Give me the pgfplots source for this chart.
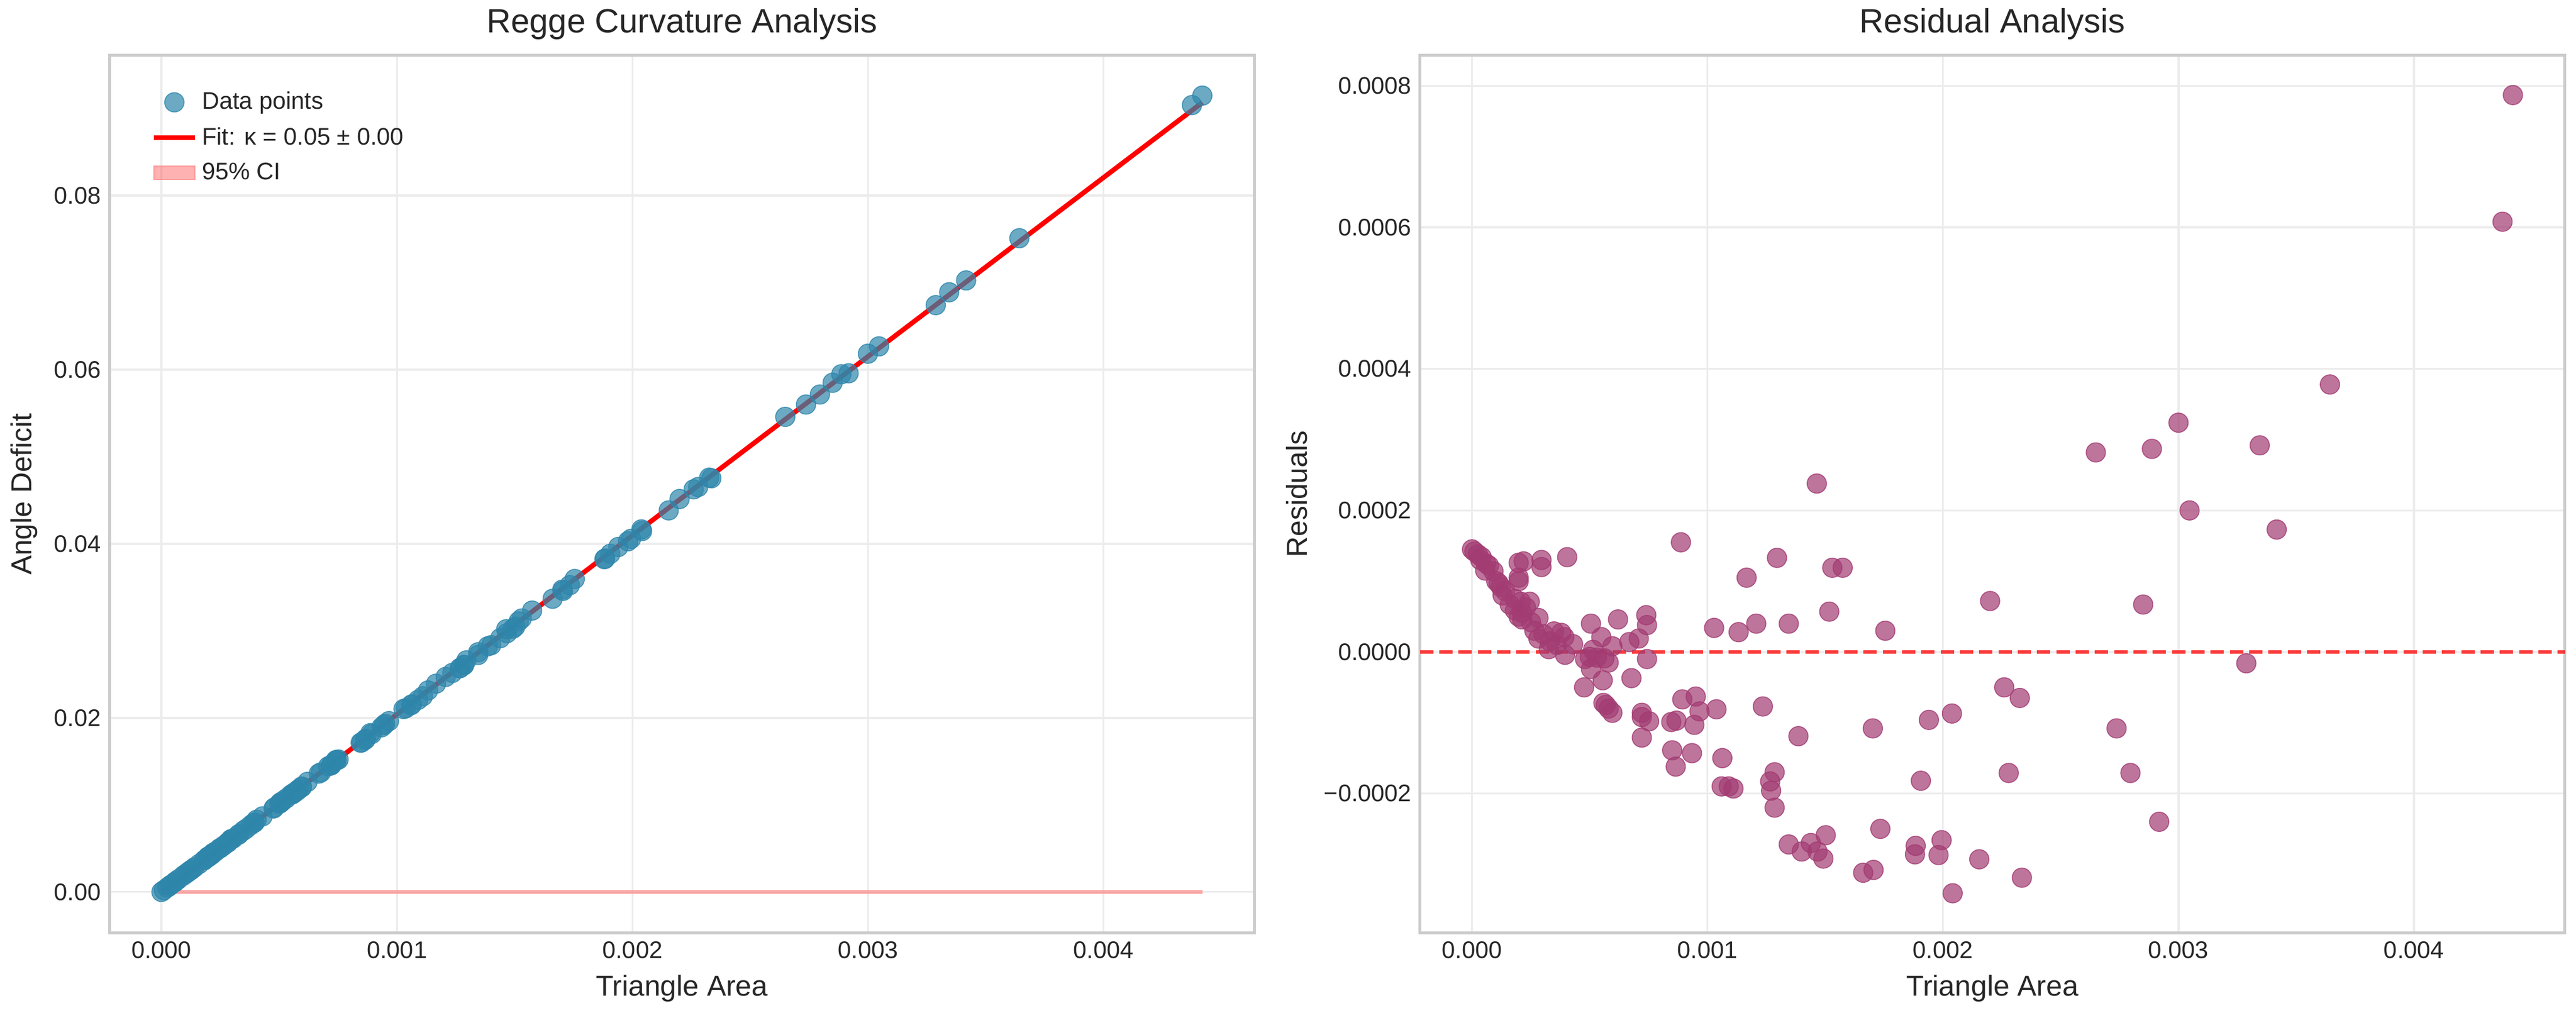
\documentclass[border=0pt]{standalone}
\usepackage{pgfplots}
\pgfplotsset{compat=1.18}
\usepackage{pgfplotstable}
\usepackage{fontspec}
\setmainfont{Liberation Sans}
\definecolor{ptblue}{RGB}{46,134,171}
\definecolor{ptpurp}{RGB}{162,59,114}
\definecolor{framegray}{RGB}{204,204,204}
\definecolor{txt}{RGB}{38,38,38}
\pgfplotstableread{
x r y
0.00442 0.000787 0.091478
0.004376 0.000608 0.090395
0.003643 0.000378 0.075102
0.003000 0.000324 0.061834
0.002887 0.000287 0.059475
0.002649 0.000282 0.054579
0.003345 0.000292 0.068892
0.003047 0.000200 0.062676
0.003417 0.000173 0.070252
0.001464 0.000238 0.030183
0.000887 0.000155 0.018243
0.001295 0.000133 0.026605
0.000404 0.000134 0.008296
0.000295 0.000130 0.006052
0.000295 0.000120 0.006042
0.000198 0.000126 0.004055
0.000219 0.000128 0.004488
0.001530 0.000119 0.031421
0.001574 0.000119 0.032325
0.001166 0.000105 0.023926
0.002200 0.000072 0.045142
0.002850 0.000067 0.058495
0.001517 0.000057 0.031091
0.000740 0.000052 0.015119
0.000743 0.000038 0.015167
0.000620 0.000046 0.012647
0.000505 0.000040 0.010278
0.001028 0.000034 0.021019
0.001132 0.000028 0.023151
0.001207 0.000040 0.024704
0.001345 0.000040 0.027540
0.001755 0.000030 0.035955
0.003288 -0.000016 0.067412
0.002260 -0.000050 0.046253
0.002326 -0.000065 0.047594
0.002038 -0.000087 0.041654
0.001940 -0.000096 0.039631
0.001702 -0.000108 0.034728
0.001235 -0.000077 0.025162
0.001038 -0.000081 0.021110
0.000966 -0.000084 0.019627
0.000950 -0.000063 0.019320
0.000893 -0.000067 0.018144
0.001386 -0.000119 0.028223
0.002737 -0.000108 0.055997
0.002796 -0.000171 0.057147
0.002279 -0.000171 0.046522
0.001906 -0.000182 0.038846
0.002918 -0.000240 0.059585
0.001063 -0.000150 0.021555
0.001060 -0.000190 0.021453
0.001090 -0.000190 0.022070
0.001110 -0.000193 0.022478
0.001266 -0.000183 0.025693
0.001285 -0.000170 0.026097
0.001270 -0.000196 0.025763
0.001285 -0.000220 0.026047
0.001345 -0.000272 0.027228
0.001400 -0.000282 0.028348
0.001439 -0.000270 0.029161
0.001467 -0.000282 0.029725
0.001492 -0.000292 0.030229
0.001502 -0.000259 0.030467
0.001734 -0.000250 0.035244
0.001661 -0.000312 0.033682
0.001705 -0.000308 0.034590
0.001884 -0.000274 0.038302
0.001881 -0.000286 0.038229
0.001981 -0.000287 0.040283
0.001994 -0.000266 0.040571
0.002154 -0.000293 0.043832
0.002335 -0.000319 0.047525
0.002041 -0.000341 0.041462
0.000850 -0.000139 0.017189
0.000865 -0.000162 0.017474
0.000934 -0.000143 0.018911
0.000846 -0.000099 0.017146
0.000868 -0.000097 0.017600
0.000944 -0.000103 0.019156
0.000721 -0.000086 0.014591
0.000721 -0.000092 0.014585
0.000752 -0.000098 0.015216
0.000721 -0.000121 0.014556
0.000677 -0.000037 0.013735
0.000743 -0.000010 0.015119
0.000708 0.000019 0.014428
0.000668 0.000014 0.013601
0.000596 0.000008 0.012116
0.000476 -0.000050 0.009592
0.000558 -0.000072 0.011255
0.000568 -0.000075 0.011457
0.000580 -0.000080 0.011699
0.000596 -0.000086 0.012022
0.000555 -0.000040 0.011225
0.000549 0.000021 0.011163
0.000505 -0.000024 0.010214
0.000500 -0.000007 0.010128
0.000530 -0.000008 0.010744
0.000562 -0.000009 0.011400
0.000580 -0.000015 0.011764
0.000480 -0.000010 0.009714
0.000514 0.000003 0.010426
0.000395 -0.000004 0.007973
0.000429 0.000011 0.008687
0.000326 0.000004 0.006563
0.000282 0.000019 0.005674
0.000304 0.000025 0.006132
0.000348 0.000029 0.007040
0.000379 0.000027 0.007675
0.000392 0.000021 0.007937
0.000282 0.000048 0.005703
0.000251 0.000042 0.005060
0.000213 0.000046 0.004283
0.000198 0.000050 0.003979
0.000245 0.000071 0.004966
0.000207 0.000071 0.004185
0.000160 0.000067 0.003215
0.000182 0.000075 0.003675
0.000229 0.000063 0.004629
0.000182 0.000059 0.003659
0.000213 0.000055 0.004292
0.000198 0.000100 0.004029
0.000198 0.000105 0.004034
0.000141 0.000086 0.002844
0.000113 0.000097 0.002279
0.000103 0.000100 0.002077
0.000122 0.000092 0.002459
0.000091 0.000114 0.001844
0.000072 0.000122 0.001462
0.000056 0.000115 0.001126
0.000041 0.000134 0.000837
0.000025 0.000138 0.000512
0.000010 0.000142 0.000208
0.000000 0.000145 0.000005
0.000035 0.000130 0.000709
0.000060 0.000125 0.001218
0.000130 0.000080 0.002612
0.000265 0.000030 0.005336
0.000330 0.000015 0.006657
0.000360 0.000010 0.007268
}\pts
\pgfplotsset{
  base/.style={
    scale only axis, width=475bp, height=364bp,
    xmin=-0.000221, xmax=0.004641,
    axis line style={framegray, line width=1.2bp},
    grid=major, major grid style={gray!15, line width=0.8bp},
    tick style={draw=none},
    ticklabel style={font=\fontsize{10}{12}\selectfont, text=txt},
    label style={font=\fontsize{12}{14}\selectfont, text=txt},
    title style={font=\fontsize{14}{16}\selectfont, text=txt, yshift=-3bp},
    scaled ticks=false,
    /pgf/number format/assume math mode=true,
    xtick={0,0.001,0.002,0.003,0.004},
    x tick label style={/pgf/number format/.cd, fixed, fixed zerofill, precision=3},
    xlabel={Triangle Area},
  }
}
\begin{document}
\begin{tikzpicture}
\useasboundingbox (-45.4bp,-33bp) rectangle (1023.3bp,387bp);
\begin{axis}[base,
  ymin=-0.0047, ymax=0.0961,
  ytick={0,0.02,0.04,0.06,0.08},
  y tick label style={/pgf/number format/.cd, fixed, fixed zerofill, precision=2},
  ylabel={Angle Deficit},
  title={Regge Curvature Analysis},
  legend pos=north west,
  legend style={draw=none, fill=none, font=\fontsize{10}{12}\selectfont, text=txt, row sep=2bp},
  legend cell align=left,
]
\addplot[only marks, mark=*, mark size=4bp, fill=ptblue, draw=ptblue, fill opacity=0.7, draw opacity=0.8] table[x=x, y=y] {\pts};
\addlegendentry{Data points}
\addplot[red, line width=2bp] coordinates {(0,-0.00014) (0.00442,0.090691)};
\addlegendentry{Fit: κ = 0.05 ± 0.00}
\addplot[fill=red!60!white, fill opacity=0.5, draw=red!50, draw opacity=0.6, area legend] coordinates {(0,-0.00016) (0.00442,-0.00016) (0.00442,0.00016) (0,0.00016)} -- cycle;
\addlegendentry{95\% CI}
\end{axis}
\begin{axis}[base, xshift=543.7bp,
  ymin=-0.000397, ymax=0.000843,
  ytick={-0.0002,0,0.0002,0.0004,0.0006,0.0008},
  yticklabels={−0.0002,0.0000,0.0002,0.0004,0.0006,0.0008},
  ylabel={Residuals},
  title={Residual Analysis},
]
\addplot[only marks, mark=*, mark size=4bp, fill=ptpurp, draw=ptpurp, fill opacity=0.7, draw opacity=0.8] table[x=x, y=r] {\pts};
\draw[red, opacity=0.75, line width=1.5bp, dash pattern=on 5.5bp off 2.5bp] (axis cs:-0.000221,0) -- (axis cs:0.004641,0);
\end{axis}
\end{tikzpicture}
\end{document}
